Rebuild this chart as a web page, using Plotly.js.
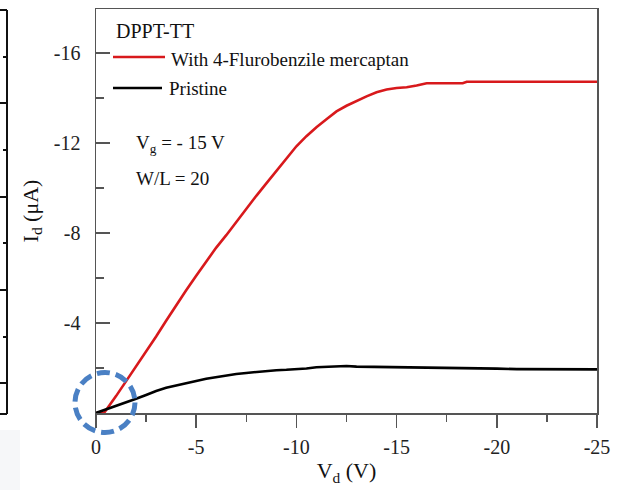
<!DOCTYPE html>
<html>
<head>
<meta charset="utf-8">
<script src="https://cdn.plot.ly/plotly-3.0.1.min.js"></script>
<style>html,body{margin:0;padding:0;background:#fff;}#chart{width:624px;height:490px;}</style>
</head>
<body>
<div id="chart"></div>
<script>
// ---- data ----
const vdRed = [0, -0.4, -1, -1.5, -2, -2.5, -3, -3.5, -4, -4.5, -5, -5.5, -6, -6.5, -7, -7.5, -8, -8.5, -9, -9.5, -10, -10.5, -11, -11.5, -12, -12.5, -13, -13.5, -14, -14.5, -15, -15.5, -16, -16.5, -17, -18, -18.3, -18.5, -20, -22, -25];
const idRed = [0, 0, -0.75, -1.4, -2.05, -2.7, -3.4, -4.1, -4.8, -5.45, -6.1, -6.75, -7.35, -7.9, -8.5, -9.1, -9.65, -10.2, -10.75, -11.3, -11.85, -12.3, -12.7, -13.05, -13.4, -13.65, -13.87, -14.07, -14.25, -14.37, -14.44, -14.47, -14.55, -14.65, -14.65, -14.65, -14.65, -14.72, -14.72, -14.72, -14.72];
const vdBlack = [0, -0.5, -1, -1.5, -2, -2.5, -3, -3.5, -4, -4.5, -5, -5.5, -6, -6.5, -7, -7.5, -8, -8.5, -9, -9.5, -10, -10.5, -11, -11.5, -12, -12.5, -13, -14, -15, -16, -17, -18, -19, -20, -21, -22, -23, -24, -25];
const idBlack = [0, -0.15, -0.32, -0.48, -0.63, -0.8, -0.98, -1.12, -1.23, -1.33, -1.42, -1.52, -1.6, -1.67, -1.73, -1.78, -1.83, -1.87, -1.9, -1.92, -1.94, -1.98, -2.03, -2.05, -2.08, -2.09, -2.06, -2.05, -2.05, -2.04, -2.03, -2.0, -1.98, -1.97, -1.95, -1.94, -1.94, -1.94, -1.94];
const seriesNames = ["With 4-Flurobenzile mercaptan", "Pristine"];
const legendTitle = "DPPT-TT";
const xTickVals = [0, -5, -10, -15, -20, -25];
const xTickText = ["0", "-5", "-10", "-15", "-20", "-25"];
const xMinorVals = [-2.5, -7.5, -12.5, -17.5, -22.5];
const yTickVals = [-16, -12, -8, -4];
const yTickText = ["-16", "-12", "-8", "-4"];
const yMinorVals = [-14, -10, -6, -2];
const noteLines = ["V<sub>g</sub> = - 15 V", "W/L = 20"];

// ---- layout geometry (pixels) ----
const W = 624, H = 490, L = 96, R = 597, T = 9, B = 413;
const px = x => (x - L) / (R - L);
const py = y => (B - y) / (B - T);
const FONT = "Liberation Serif, Times New Roman, serif";
const AX = "#555555";

const traces = [
  {x: vdRed, y: idRed, name: seriesNames[0], type: "scatter", mode: "lines",
   line: {color: "#d8191c", width: 2.6}, showlegend: false},
  {x: vdBlack, y: idBlack, name: seriesNames[1], type: "scatter", mode: "lines",
   line: {color: "#000000", width: 2.6}, showlegend: false}
];

const shapes = [
  // legend samples
  {type: "line", xref: "paper", yref: "paper", x0: px(113), x1: px(165), y0: py(57), y1: py(57), line: {color: "#d8191c", width: 2.6}},
  {type: "line", xref: "paper", yref: "paper", x0: px(113), x1: px(162), y0: py(88), y1: py(88), line: {color: "#000000", width: 2.6}},
  // dashed highlight circle
  {type: "circle", xref: "paper", yref: "paper", x0: px(75), x1: px(135), y0: py(432.5), y1: py(372.5),
   line: {color: "#4a80c4", width: 5, dash: "13px,6px"}, fillcolor: "rgba(0,0,0,0)"},
  // faint block bottom-left
  {type: "rect", xref: "paper", yref: "paper", x0: px(0), x1: px(20), y0: py(490), y1: py(430), line: {width: 0}, fillcolor: "#f6f7f9", layer: "below"},
  // partial neighbouring axis at left edge
  {type: "line", xref: "paper", yref: "paper", x0: px(7), x1: px(7), y0: py(10), y1: py(414), line: {color: "#111", width: 2}}
];
[10, 414].forEach(y => shapes.push({type: "line", xref: "paper", yref: "paper", x0: px(0), x1: px(7), y0: py(y), y1: py(y), line: {color: "#111", width: 2}}));
[57, 103, 150, 197, 243, 290, 337, 383].forEach((y, i) => shapes.push({type: "line", xref: "paper", yref: "paper",
  x0: px(i % 2 ? 0 : 3), x1: px(7), y0: py(y), y1: py(y), line: {color: "#111", width: 2}}));

const annotations = [
  {text: legendTitle, xref: "paper", yref: "paper", x: px(114), y: py(31), xanchor: "left", yanchor: "middle", showarrow: false, font: {family: FONT, size: 20, color: "#111"}},
  {text: seriesNames[0], xref: "paper", yref: "paper", x: px(169), y: py(59), xanchor: "left", yanchor: "middle", showarrow: false, font: {family: FONT, size: 19, color: "#111"}},
  {text: seriesNames[1], xref: "paper", yref: "paper", x: px(167), y: py(89), xanchor: "left", yanchor: "middle", showarrow: false, font: {family: FONT, size: 19, color: "#111"}},
  {text: noteLines[0], xref: "paper", yref: "paper", x: px(134), y: py(144), xanchor: "left", yanchor: "middle", showarrow: false, font: {family: FONT, size: 19, color: "#111"}},
  {text: noteLines[1], xref: "paper", yref: "paper", x: px(134), y: py(178), xanchor: "left", yanchor: "middle", showarrow: false, font: {family: FONT, size: 19, color: "#111"}}
];

const layout = {
  width: W, height: H,
  margin: {l: L, r: W - R, t: T, b: H - B, pad: 0},
  paper_bgcolor: "#ffffff", plot_bgcolor: "#ffffff",
  showlegend: false,
  xaxis: {
    range: [0, -25], tickmode: "array", tickvals: xTickVals, ticktext: xTickText,
    ticks: "outside", ticklen: 13, tickwidth: 1.5, tickcolor: AX,
    showline: true, linecolor: AX, linewidth: 1.5, mirror: true,
    showgrid: false, zeroline: false, automargin: false,
    ticklabelstandoff: 2,
    tickfont: {family: FONT, size: 20, color: "#222"},
    minor: {tickmode: "array", tickvals: xMinorVals, ticks: "outside", ticklen: 7, tickwidth: 1.5, tickcolor: AX, showgrid: false},
    title: {text: "V<sub>d</sub> (V)", font: {family: FONT, size: 22, color: "#111"}, standoff: 6}
  },
  yaxis: {
    range: [0, -17.95], tickmode: "array", tickvals: yTickVals, ticktext: yTickText,
    ticks: "inside", ticklen: 14, tickwidth: 1.5, tickcolor: AX,
    showline: true, linecolor: AX, linewidth: 1.5, mirror: true,
    showgrid: false, zeroline: false, automargin: false,
    ticklabelstandoff: 10,
    tickfont: {family: FONT, size: 20, color: "#222"},
    minor: {tickmode: "array", tickvals: yMinorVals, ticks: "inside", ticklen: 8, tickwidth: 1.5, tickcolor: AX, showgrid: false},
    title: {text: "I<sub>d</sub> (μA)", font: {family: FONT, size: 22, color: "#111"}, standoff: 9}
  },
  shapes: shapes,
  annotations: annotations
};

Plotly.newPlot("chart", traces, layout, {staticPlot: true, displayModeBar: false});
</script>
</body>
</html>
